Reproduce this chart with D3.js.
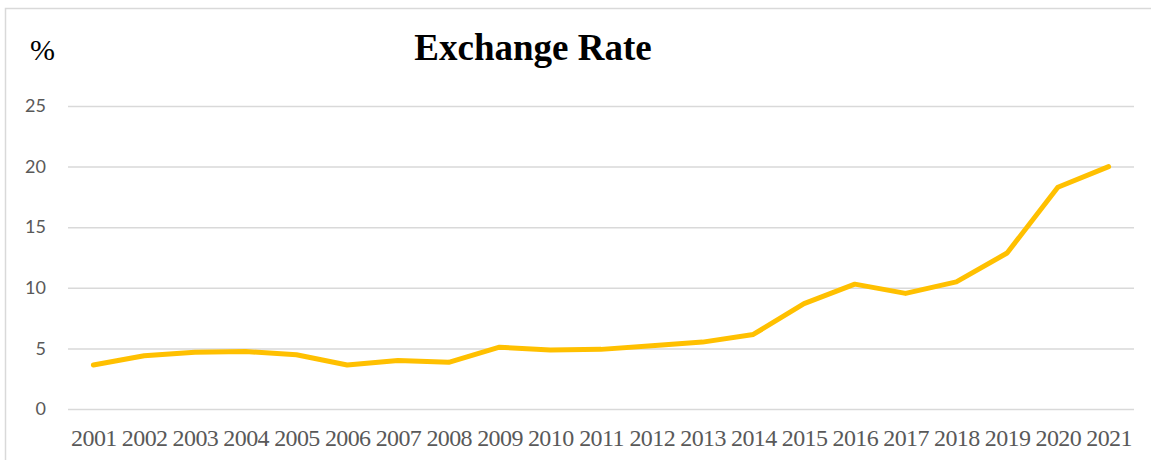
<!DOCTYPE html>
<html>
<head>
<meta charset="utf-8">
<script src="https://cdn.jsdelivr.net/npm/d3@7"></script>
<style>
  html, body { margin: 0; padding: 0; background: #fff; }
  svg { display: block; }
</style>
</head>
<body>
<div id="chart"></div>
<script>
const years = ["2001","2002","2003","2004","2005","2006","2007","2008","2009","2010","2011","2012","2013","2014","2015","2016","2017","2018","2019","2020","2021"];
const exchangeRate = [3.63, 4.4, 4.68, 4.74, 4.48, 3.63, 4.0, 3.85, 5.1, 4.86, 4.92, 5.22, 5.52, 6.15, 8.69, 10.3, 9.54, 10.49, 12.87, 18.3, 20.0];
const yTicks = [0, 5, 10, 15, 20, 25];
const titleText = "Exchange Rate";
const unitText = "%";

const W = 1151, H = 460;
const margin = { left: 68, right: 17, top: 106, bottom: 51 };

const svg = d3.select("#chart").append("svg")
  .attr("width", W).attr("height", H);

// frame
svg.append("path")
  .attr("d", `M5.5,${H} L5.5,8.5 L${W},8.5`)
  .attr("fill", "none")
  .attr("stroke", "#d9d9d9")
  .attr("stroke-width", 1.5);

const x = d3.scalePoint()
  .domain(years)
  .range([margin.left, W - margin.right])
  .padding(0.5);

const y = d3.scaleLinear()
  .domain([0, 25])
  .range([H - margin.bottom, margin.top]);

// gridlines
const yAxis = d3.axisLeft(y)
  .tickValues(yTicks)
  .tickSize(-(W - margin.right - margin.left))
  .tickPadding(22)
  .tickFormat(d3.format("d"));

const gy = svg.append("g")
  .attr("transform", `translate(${margin.left},0)`)
  .call(yAxis);
gy.select(".domain").remove();
gy.selectAll(".tick line")
  .attr("stroke", "#d9d9d9")
  .attr("stroke-width", 1.5);
gy.selectAll(".tick text")
  .attr("fill", "#595959")
  .style("font-family", "Lato, 'Open Sans', sans-serif")
  .style("font-size", "18px");

// x axis labels
const xAxis = d3.axisBottom(x).tickSize(0).tickPadding(20);
const gx = svg.append("g")
  .attr("transform", `translate(0,${H - margin.bottom})`)
  .call(xAxis);
gx.select(".domain").remove();
gx.selectAll(".tick text")
  .attr("fill", "#595959")
  .style("font-family", "'Liberation Serif', 'Times New Roman', serif")
  .style("font-size", "24px")
  .style("letter-spacing", "-0.6px");

// line
const line = d3.line()
  .x((d, i) => x(years[i]))
  .y(d => y(d));

svg.append("path")
  .datum(exchangeRate)
  .attr("d", line)
  .attr("fill", "none")
  .attr("stroke", "#FFC000")
  .attr("stroke-width", 5)
  .attr("stroke-linejoin", "round")
  .attr("stroke-linecap", "round");

// title
svg.append("text")
  .attr("x", 533)
  .attr("y", 60)
  .attr("text-anchor", "middle")
  .style("font-family", "'Liberation Serif', 'Times New Roman', serif")
  .style("font-weight", "bold")
  .style("font-size", "37px")
  .attr("fill", "#000")
  .text(titleText);

svg.append("text")
  .attr("x", 30)
  .attr("y", 60)
  .style("font-family", "'Liberation Serif', 'Times New Roman', serif")
  .style("font-size", "30px")
  .attr("fill", "#000")
  .text(unitText);
</script>
</body>
</html>
